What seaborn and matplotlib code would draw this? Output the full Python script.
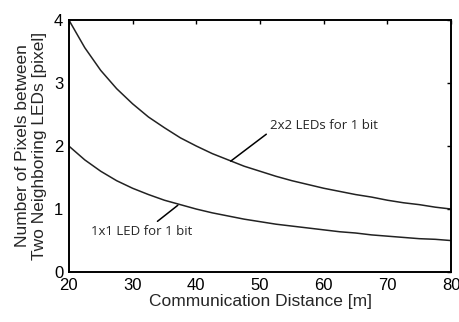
import matplotlib
matplotlib.use("Agg")
import matplotlib.pyplot as plt
import seaborn as sns
import pandas as pd

# values
distance = [20, 22.5, 25, 27.5, 30, 32.5, 35, 37.5, 40, 42.5, 45, 47.5, 50,
            52.5, 55, 57.5, 60, 62.5, 65, 67.5, 70, 72.5, 75, 77.5, 80]
pixels_2x2 = [4.0, 3.56, 3.2, 2.91, 2.67, 2.46, 2.29, 2.13, 2.0, 1.88, 1.78,
              1.68, 1.6, 1.52, 1.45, 1.39, 1.33, 1.28, 1.23, 1.19, 1.14, 1.10,
              1.07, 1.03, 1.0]
pixels_1x1 = [2.0, 1.78, 1.6, 1.45, 1.33, 1.23, 1.14, 1.07, 1.0, 0.94, 0.89,
              0.84, 0.8, 0.76, 0.73, 0.70, 0.67, 0.64, 0.62, 0.59, 0.57, 0.55,
              0.53, 0.52, 0.5]
xticks = [20, 30, 40, 50, 60, 70, 80]
yticks = [0, 1, 2, 3, 4]

df = pd.DataFrame({
    "d": distance * 2,
    "px": pixels_2x2 + pixels_1x1,
    "series": ["2x2"] * len(distance) + ["1x1"] * len(distance),
})

sns.set_style("white")
plt.rcParams["font.family"] = ["Liberation Sans", "DejaVu Sans"]

fig = plt.figure(figsize=(4.59, 3.22), dpi=100)
ax = fig.add_axes([0.150, 0.155, 0.833, 0.783])

sns.lineplot(data=df, x="d", y="px", units="series", estimator=None,
             color="#222222", linewidth=1.1, ax=ax, legend=False)

ax.set_xlim(20, 80)
ax.set_ylim(0, 4)
ax.set_xticks(xticks)
ax.set_yticks(yticks)
ax.tick_params(direction="in", length=3, width=1, top=True, right=True,
               labelsize=12, pad=4, colors="black")
for s in ax.spines.values():
    s.set_visible(True)
    s.set_linewidth(1.4)
    s.set_color("black")

ax.set_xlabel("Communication Distance [m]", fontsize=12.5, labelpad=1)
ax.set_ylabel("Number of Pixels between\nTwo Neighboring LEDs [pixel]",
              fontsize=12.5, labelpad=5, linespacing=1.2)

ann_font = ["Open Sans", "DejaVu Sans"]
ax.annotate("2x2 LEDs for 1 bit", xy=(45.4, 1.76), xytext=(51.5, 2.33),
            fontsize=9.5, family=ann_font, va="center", ha="left",
            arrowprops=dict(arrowstyle="-", color="black", lw=1.1,
                            shrinkA=0, shrinkB=0,
                            relpos=(0, 0)))
ax.annotate("1x1 LED for 1 bit", xy=(37.1, 1.06), xytext=(23.4, 0.65),
            fontsize=9.5, family=ann_font, va="center", ha="left",
            arrowprops=dict(arrowstyle="-", color="black", lw=1.1,
                            shrinkA=0, shrinkB=0,
                            relpos=(0.62, 1.0)))

fig.savefig("out.png", dpi=100)
